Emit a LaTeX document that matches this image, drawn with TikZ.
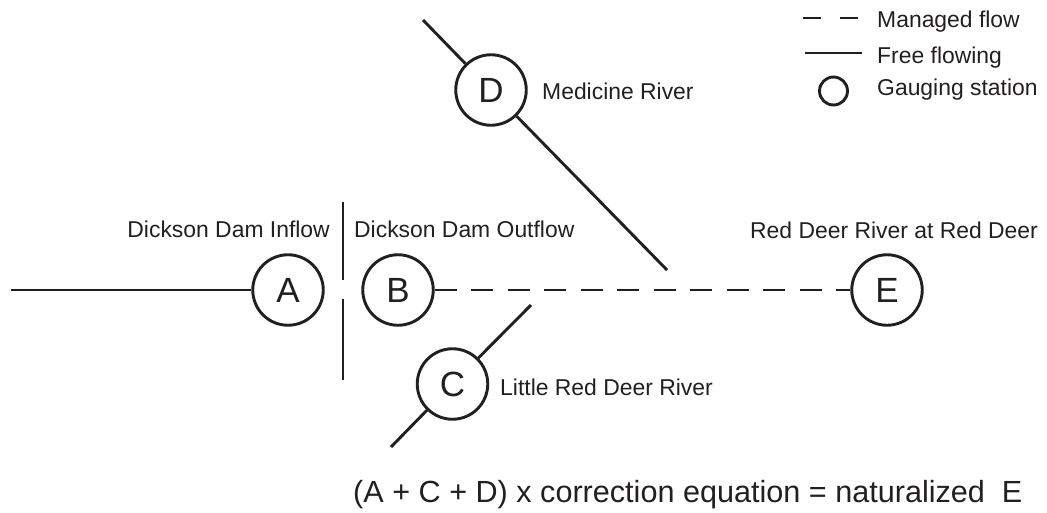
\documentclass[tikz,border=0pt]{standalone}
\usepackage{fontspec}
\setmainfont{Liberation Sans}
\definecolor{ink}{HTML}{231F20}
\begin{document}
\begin{tikzpicture}[x=1pt,y=-1pt,
  river/.style={draw=ink,line width=2.9pt},
  managed/.style={draw=ink,line width=2.9pt,dash pattern=on 22pt off 14.5pt},
  station/.style={circle,draw=ink,line width=2.9pt,minimum size=70.5pt,inner sep=0pt,text=ink,font=\fontsize{35}{40}\selectfont},
  lbl/.style={inner sep=0pt,text=ink,font=\fontsize{22.9}{26}\selectfont},
  eqn/.style={inner sep=0pt,text=ink,font=\fontsize{30.6}{36}\selectfont}]
\useasboundingbox (0,0) rectangle (1047,512);
% stations
\node[station] (A) at (288,290) {A};
\node[station] (B) at (398,290) {B};
\node[station] (C) at (452.5,384) {C};
\node[station] (D) at (491,90) {D};
\node[station] (E) at (887,290) {E};
% free ends
\coordinate (aw) at (11,290);
\coordinate (dtop) at (423,20);
\coordinate (dbot) at (667,270);
\coordinate (ctop) at (531,305);
\coordinate (cbot) at (391,447);
\coordinate (dam1a) at (343,202);
\coordinate (dam1b) at (343,280);
\coordinate (dam2a) at (343,299);
\coordinate (dam2b) at (343,380);
% rivers
\draw[river] (aw) -- (A);
\draw[river] (dtop) -- (D);
\draw[river] (D) -- (dbot);
\draw[river] (ctop) -- (C);
\draw[river] (C) -- (cbot);
\draw[managed] (B) -- (E);
% dam
\draw[river] (dam1a) -- (dam1b);
\draw[river] (dam2a) -- (dam2b);
% labels
\node[lbl,anchor=base east] (la) at (330,237) {Dickson Dam Inflow};
\node[lbl,anchor=base west] (lb) at (354,237) {Dickson Dam Outflow};
\node[lbl,anchor=base west] (le) at (750,238) {Red Deer River at Red Deer};
\node[lbl,anchor=base west] (ld) at (542,99) {Medicine River};
\node[lbl,anchor=base west] (lc) at (500,395) {Little Red Deer River};
% legend
\coordinate (lg1a) at (803,18);
\coordinate (lg1b) at (859,18);
\coordinate (lg2a) at (805,53);
\coordinate (lg2b) at (862,53);
\draw[draw=ink,line width=2.9pt,dash pattern=on 18pt off 19pt] (lg1a) -- (lg1b);
\draw[river] (lg2a) -- (lg2b);
\node[circle,draw=ink,line width=2.9pt,minimum size=28pt,inner sep=0pt] (lg3) at (833.5,91) {};
\node[lbl,anchor=base west] (t1) at (877,27) {Managed flow};
\node[lbl,anchor=base west] (t2) at (877,63) {Free flowing};
\node[lbl,anchor=base west] (t3) at (877,95) {Gauging station};
% equation
\node[eqn,anchor=base west] (eq) at (353,502) {(A + C + D) x correction equation = naturalized\ \ E};
\end{tikzpicture}
\end{document}
